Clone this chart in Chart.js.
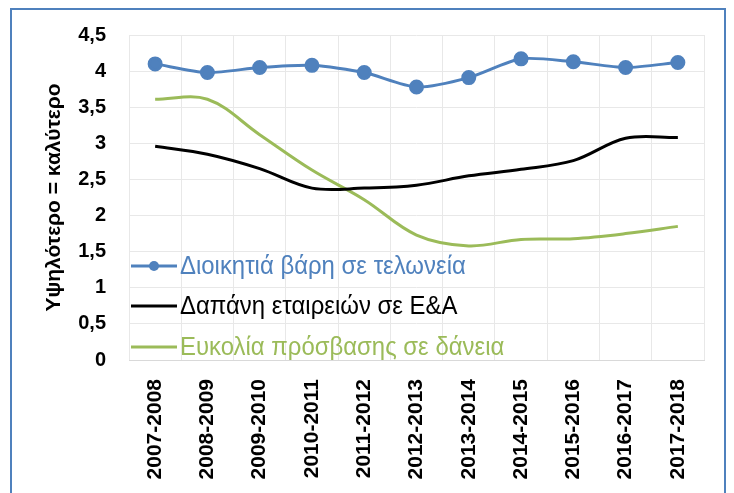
<!DOCTYPE html>
<html>
<head>
<meta charset="utf-8">
<script src="https://cdn.jsdelivr.net/npm/chart.js@4.4.1/dist/chart.umd.min.js"></script>
<style>
  html, body { margin: 0; padding: 0; background: #fff; }
  #wrap { position: relative; width: 734px; height: 493px; overflow: hidden; }
  #frame { position: absolute; left: 10px; top: 8px; width: 716px; height: 520px; border: 2px solid #4f81bd; box-sizing: border-box; }
  #chart { position: absolute; left: 0; top: 0; }
</style>
</head>
<body>
<div id="wrap">
  <div id="frame"></div>
  <canvas id="chart" width="734" height="493"></canvas>
</div>
<script>
const categories = ['2007-2008', '2008-2009', '2009-2010', '2010-2011', '2011-2012', '2012-2013',
  '2013-2014', '2014-2015', '2015-2016', '2016-2017', '2017-2018'];

const customsBurden = [4.10, 3.98, 4.05, 4.08, 3.98, 3.78, 3.91, 4.17, 4.13, 4.05, 4.12];
const rdSpending    = [2.96, 2.85, 2.65, 2.38, 2.38, 2.42, 2.55, 2.64, 2.76, 3.07, 3.08];
const loanAccess    = [3.61, 3.61, 3.12, 2.63, 2.22, 1.73, 1.58, 1.67, 1.68, 1.75, 1.85];

const seriesNames = ['Διοικητιά βάρη σε τελωνεία', 'Δαπάνη εταιρειών σε Ε&Α', 'Ευκολία πρόσβασης σε δάνεια'];
const seriesColors = ['#4f81bd', '#000000', '#9bbb59'];
const yAxisTitle = 'Υψηλότερο = καλύτερο';

// legend drawn inside the plot, bottom-left, like the Excel original
const insideLegend = {
  id: 'insideLegend',
  afterDatasetsDraw(chart) {
    const ctx = chart.ctx;
    const x0 = 131, x1 = 177;
    const rows = [266, 306, 347];
    ctx.save();
    chart.data.datasets.forEach((ds, i) => {
      const y = rows[i];
      ctx.strokeStyle = ds.borderColor;
      ctx.lineWidth = 3;
      ctx.beginPath();
      ctx.moveTo(x0, y);
      ctx.lineTo(x1, y);
      ctx.stroke();
      if (ds.pointRadius > 0) {
        ctx.fillStyle = ds.borderColor;
        ctx.beginPath();
        ctx.arc((x0 + x1) / 2, y, 5, 0, Math.PI * 2);
        ctx.fill();
      }
      // text is a bit condensed in the original
      ctx.save();
      ctx.translate(x1 + 3, y + 1);
      ctx.scale(0.92, 1);
      ctx.fillStyle = ds.borderColor;
      ctx.font = '26px "Liberation Sans", Arial, sans-serif';
      ctx.textBaseline = 'middle';
      ctx.textAlign = 'left';
      ctx.fillText(ds.label, 0, 0);
      ctx.restore();
    });
    ctx.restore();
  }
};

new Chart(document.getElementById('chart'), {
  type: 'line',
  data: {
    labels: categories,
    datasets: [
      {
        label: seriesNames[0],
        data: customsBurden,
        borderColor: seriesColors[0],
        backgroundColor: seriesColors[0],
        borderWidth: 3,
        pointRadius: 6,
        pointHoverRadius: 6,
        tension: 0.25
      },
      {
        label: seriesNames[1],
        data: rdSpending,
        borderColor: seriesColors[1],
        backgroundColor: seriesColors[1],
        borderWidth: 3,
        pointRadius: 0,
        tension: 0.35
      },
      {
        label: seriesNames[2],
        data: loanAccess,
        borderColor: seriesColors[2],
        backgroundColor: seriesColors[2],
        borderWidth: 3,
        pointRadius: 0,
        tension: 0.35
      }
    ]
  },
  options: {
    responsive: false,
    animation: false,
    layout: { padding: { top: 34, right: 30, left: 42, bottom: 0 } },
    plugins: {
      legend: { display: false },
      tooltip: { enabled: false }
    },
    scales: {
      x: {
        offset: true,
        grid: { color: '#e8e8e8', lineWidth: 1, drawTicks: false, offset: true },
        border: { color: '#d9d9d9' },
        ticks: {
          color: '#000',
          font: { family: '"Liberation Sans", Arial, sans-serif', size: 21, weight: 'bold' },
          maxRotation: 90,
          minRotation: 90,
          padding: 19,
          autoSkip: false
        },
        afterFit(scale) { scale.height = 133; }
      },
      y: {
        min: 0,
        max: 4.5,
        grid: { color: '#e8e8e8', lineWidth: 1, drawTicks: false },
        border: { display: false },
        ticks: {
          stepSize: 0.5,
          color: '#000',
          padding: 23,
          font: { family: '"Liberation Sans", Arial, sans-serif', size: 20, weight: 'bold' },
          callback: v => String(v).replace('.', ',')
        },
        title: {
          display: true,
          text: yAxisTitle,
          color: '#000',
          font: { family: '"Liberation Sans", Arial, sans-serif', size: 21, weight: 'bold' },
          padding: 0
        },
        afterFit(scale) { scale.width = 87; }
      }
    }
  },
  plugins: [insideLegend]
});
</script>
</body>
</html>
